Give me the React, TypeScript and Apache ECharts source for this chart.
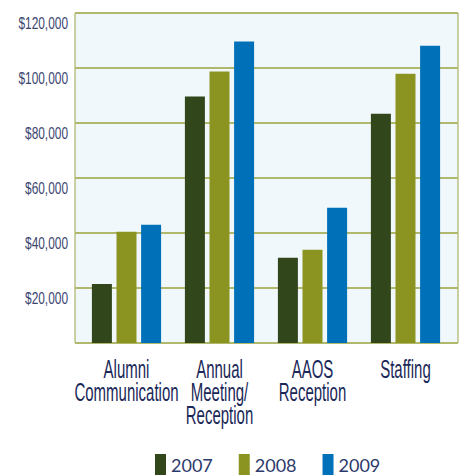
import React, { useEffect, useRef } from "react";
import * as echarts from "echarts";

const categories = ["Alumni\nCommunication", "Annual\nMeeting/\nReception", "AAOS\nReception", "Staffing"];
const years = ["2007", "2008", "2009"];
const values2007 = [21500, 89600, 31000, 83400];
const values2008 = [40500, 98700, 33900, 97900];
const values2009 = [43000, 109600, 49200, 108100];
const yTicks = [20000, 40000, 60000, 80000, 100000, 120000];
const colors = ["#31461b", "#8c9421", "#0070b8"];

const FONT = "'Liberation Sans', Arial, sans-serif";

export default function App() {
  const ref = useRef<HTMLDivElement>(null);
  useEffect(() => {
    if (!ref.current) return;
    const chart = echarts.init(ref.current, undefined, { renderer: "svg" });
    const seriesData = [values2007, values2008, values2009];
    chart.setOption({
      animation: false,
      backgroundColor: "#ffffff",
      grid: [
        // bar area
        { left: 80, right: 10, top: 13, bottom: 132, show: false },
        // plot frame
        {
          left: 75,
          right: 4,
          top: 13,
          bottom: 132,
          show: true,
          backgroundColor: "#f0f8fb",
          borderColor: "#9aa34a",
          borderWidth: 1,
        },
      ],
      legend: {
        data: years,
        left: 155,
        top: 454,
        padding: 0,
        icon: "rect",
        itemWidth: 11,
        itemHeight: 22,
        itemGap: 26,
        textStyle: { fontFamily: "Lato, 'Open Sans', sans-serif", fontSize: 18, color: "#2d3a6b" },
      },
      xAxis: [
        {
          type: "category",
          gridIndex: 0,
          data: categories,
          axisLine: { show: false },
          axisTick: { show: false },
          axisLabel: { show: false },
        },
        {
          type: "value",
          gridIndex: 1,
          show: false,
        },
      ],
      yAxis: [
        {
          type: "value",
          gridIndex: 0,
          min: 0,
          max: 120000,
          interval: 20000,
          show: false,
          splitLine: { show: false },
        },
        {
          type: "value",
          gridIndex: 1,
          min: 0,
          max: 120000,
          interval: 20000,
          axisLine: { show: false },
          axisTick: { show: false },
          splitLine: { show: true, lineStyle: { color: "#b0b86e", width: 2 } },
          axisLabel: { show: false },
        },
      ],
      series: years.map((y, i) => ({
        name: y,
        type: "bar",
        xAxisIndex: 0,
        yAxisIndex: 0,
        data: seriesData[i],
        barWidth: 20,
        barGap: "23%",
        itemStyle: { color: colors[i] },
      })),
    });

    const graphics: any[] = [];
    categories.forEach((c, i) => {
      const px = chart.convertToPixel({ xAxisIndex: 0 }, i) as number;
      graphics.push({
        type: "text",
        x: px,
        y: 357,
        scaleX: 0.6,
        style: {
          text: c,
          fontFamily: FONT,
          fontSize: 25,
          lineHeight: 23,
          fill: "#1a2858",
          align: "center",
          verticalAlign: "top",
        },
      });
    });
    yTicks.forEach((v) => {
      const py = chart.convertToPixel({ yAxisIndex: 1 }, v) as number;
      graphics.push({
        type: "text",
        x: 68,
        y: py + 2,
        scaleX: 0.7,
        style: {
          text: "$" + v.toLocaleString("en-US"),
          fontFamily: FONT,
          fontSize: 17,
          lineHeight: 17,
          fill: "#3b4670",
          align: "right",
          verticalAlign: "top",
        },
      });
    });
    chart.setOption({ graphic: graphics });
    return () => chart.dispose();
  }, []);
  return <div ref={ref} style={{ width: 462, height: 475, position: "absolute", left: 0, top: 0 }} />;
}
